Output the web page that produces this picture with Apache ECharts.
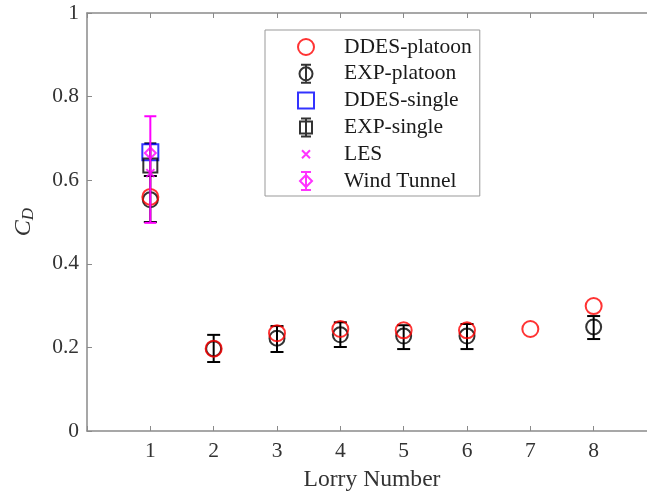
<!DOCTYPE html>
<html><head><meta charset="utf-8">
<script src="https://cdn.jsdelivr.net/npm/echarts@6/dist/echarts.min.js"></script>
<style>html,body{margin:0;padding:0;background:#fff}#c{width:647px;height:495px}</style>
</head><body><div id="c"></div>
<script>
// ---- data ----
const lorries = [1, 2, 3, 4, 5, 6, 7, 8];
const ddesPlatoon = [0.560, 0.197, 0.234, 0.244, 0.241, 0.241, 0.244, 0.299];
const expPlatoon = [0.553, 0.197, 0.222, 0.230, 0.227, 0.227, null, 0.249];
const expPlatoonLow = [0.500, 0.165, 0.189, 0.201, 0.196, 0.196, null, 0.220];
const expPlatoonHigh = [0.610, 0.230, 0.251, 0.260, 0.253, 0.256, null, 0.275];
const singleLorry = [1];
const ddesSingle = [0.667];
const expSingle = [0.635];
const expSingleLow = [0.610];
const expSingleHigh = [0.688];
const les = [0.617];
const windTunnel = [0.665];
const windTunnelLow = [0.498];
const windTunnelHigh = [0.753];
const xTicks = [1, 2, 3, 4, 5, 6, 7, 8];

const FONT = '"Liberation Serif", "Times New Roman", serif';

function pts(xs, ys) { return xs.map((x, i) => [x, ys[i]]).filter(p => p[1] != null); }
function bars(xs, lo, hi) { return xs.map((x, i) => [x, lo[i], hi[i]]).filter(p => p[1] != null); }
function errRender(color, capW) {
  return function (params, api) {
    const x = api.value(0), lo = api.value(1), hi = api.value(2);
    const a = api.coord([x, lo]), b = api.coord([x, hi]);
    const h = capW / 2;
    const st = { stroke: color, lineWidth: 2 };
    return { type: 'group', children: [
      { type: 'line', shape: { x1: a[0], y1: a[1], x2: b[0], y2: b[1] }, style: st },
      { type: 'line', shape: { x1: a[0] - h, y1: a[1], x2: a[0] + h, y2: a[1] }, style: st },
      { type: 'line', shape: { x1: b[0] - h, y1: b[1], x2: b[0] + h, y2: b[1] }, style: st }
    ]};
  };
}
const hollow = (c, w) => ({ color: 'rgba(0,0,0,0)', borderColor: c, borderWidth: w || 2 });
const BOX = 'M0,0M53,20';
const legendData = [
  { name: 'DDES-platoon', icon: 'path://' + BOX + 'M28,10A8,8,0,1,1,12,10A8,8,0,1,1,28,10Z', itemStyle: hollow('#ff0000') },
  { name: 'EXP-platoon', icon: 'path://' + BOX + 'M15,1L25,1M20,1L20,19M15,19L25,19M26.5,10A6.5,6.5,0,1,1,13.5,10A6.5,6.5,0,1,1,26.5,10Z', itemStyle: hollow('#000000') },
  { name: 'DDES-single', icon: 'path://' + BOX + 'M12,2L28,2L28,18L12,18Z', itemStyle: hollow('#0000ff') },
  { name: 'EXP-single', icon: 'path://' + BOX + 'M15,1L25,1M20,1L20,19M15,19L25,19M14,4L26,4L26,16L14,16Z', itemStyle: hollow('#000000') },
  { name: 'LES', icon: 'path://' + BOX + 'M16,6L24,14M24,6L16,14', itemStyle: hollow('#ff00ff') },
  { name: 'Wind Tunnel', icon: 'path://' + BOX + 'M15,1L25,1M20,1L20,19M15,19L25,19M20,4L26,10L20,16L14,10Z', itemStyle: hollow('#ff00ff') }
];

const axisGray = '#8a8a8a';
const textGray = '#333333';
const chart = echarts.init(document.getElementById('c'), null, { renderer: 'canvas' });
chart.setOption({
  animation: false,
  backgroundColor: '#fff',
  grid: { left: 87, top: 13, width: 570, height: 418, outerBoundsMode: 'none', containLabel: false },
  legend: {
    data: legendData, orient: 'vertical', left: 265, top: 30,
    padding: [6, 8, 4, 20], itemWidth: 53, itemHeight: 20, itemGap: 4.8,
    borderColor: '#999', borderWidth: 1, selectedMode: false,
    textStyle: { fontFamily: FONT, fontSize: 21.5, lineHeight: 20, color: '#1a1a1a' }
  },
  xAxis: [{
    type: 'value', min: 0, max: 9, interval: 1,
    name: 'Lorry Number', nameLocation: 'middle', nameGap: 37,
    nameTextStyle: { fontFamily: FONT, fontSize: 23.6, color: textGray },
    axisLine: { lineStyle: { color: axisGray, width: 1.5 } },
    axisTick: { inside: true, length: 5, lineStyle: { color: axisGray } },
    axisLabel: { margin: 9, fontFamily: FONT, fontSize: 21.5, color: textGray,
      formatter: v => xTicks.indexOf(v) >= 0 ? String(v) : '' },
    splitLine: { show: false }
  }, {
    type: 'value', min: 0, max: 9, interval: 1, position: 'top',
    axisLine: { lineStyle: { color: axisGray, width: 1.5 } },
    axisTick: { inside: true, length: 5, lineStyle: { color: axisGray } },
    axisLabel: { show: false }, splitLine: { show: false }
  }],
  yAxis: [{
    type: 'value', min: 0, max: 1, interval: 0.2,
    name: '{c|C}{d|D}', nameLocation: 'middle', nameGap: 50, nameRotate: 90,
    nameTextStyle: { rich: {
      c: { fontFamily: FONT, fontSize: 24, fontStyle: 'italic', color: textGray },
      d: { fontFamily: FONT, fontSize: 17, fontStyle: 'italic', color: textGray, verticalAlign: 'bottom', padding: [10, 0, 0, 0] }
    } },
    axisLine: { lineStyle: { color: axisGray, width: 1.5 } },
    axisTick: { inside: true, length: 5, lineStyle: { color: axisGray } },
    axisLabel: { margin: 8, fontFamily: FONT, fontSize: 21.5, color: textGray },
    splitLine: { show: false }
  }],
  series: [
    { name: 'EXP-platoon-err', type: 'custom', renderItem: errRender('#000', 13), data: bars(lorries, expPlatoonLow, expPlatoonHigh), z: 2, silent: true },
    { name: 'EXP-platoon', type: 'scatter', symbol: 'circle', symbolSize: 15, itemStyle: hollow('#000000'), data: pts(lorries, expPlatoon), z: 3, silent: true },
    { name: 'DDES-platoon', type: 'scatter', symbol: 'circle', symbolSize: 16, itemStyle: hollow('#ff0000'), data: pts(lorries, ddesPlatoon), z: 4, silent: true },
    { name: 'DDES-single', type: 'scatter', symbol: 'rect', symbolSize: 16, itemStyle: hollow('#0000ff'), data: pts(singleLorry, ddesSingle), z: 5, silent: true },
    { name: 'EXP-single-err', type: 'custom', renderItem: errRender('#000', 12), data: bars(singleLorry, expSingleLow, expSingleHigh), z: 5, silent: true },
    { name: 'EXP-single', type: 'scatter', symbol: 'rect', symbolSize: 14, itemStyle: hollow('#000000'), data: pts(singleLorry, expSingle), z: 6, silent: true },
    { name: 'LES', type: 'scatter', symbol: 'path://M0,0L10,10M10,0L0,10', symbolSize: 8, itemStyle: hollow('#ff00ff'), data: pts(singleLorry, les), z: 7, silent: true },
    { name: 'Wind Tunnel-err', type: 'custom', renderItem: errRender('#ff00ff', 12), data: bars(singleLorry, windTunnelLow, windTunnelHigh), z: 8, silent: true },
    { name: 'Wind Tunnel', type: 'scatter', symbol: 'diamond', symbolSize: 11, itemStyle: hollow('#ff00ff'), data: pts(singleLorry, windTunnel), z: 9, silent: true }
  ]
});
</script></body></html>
